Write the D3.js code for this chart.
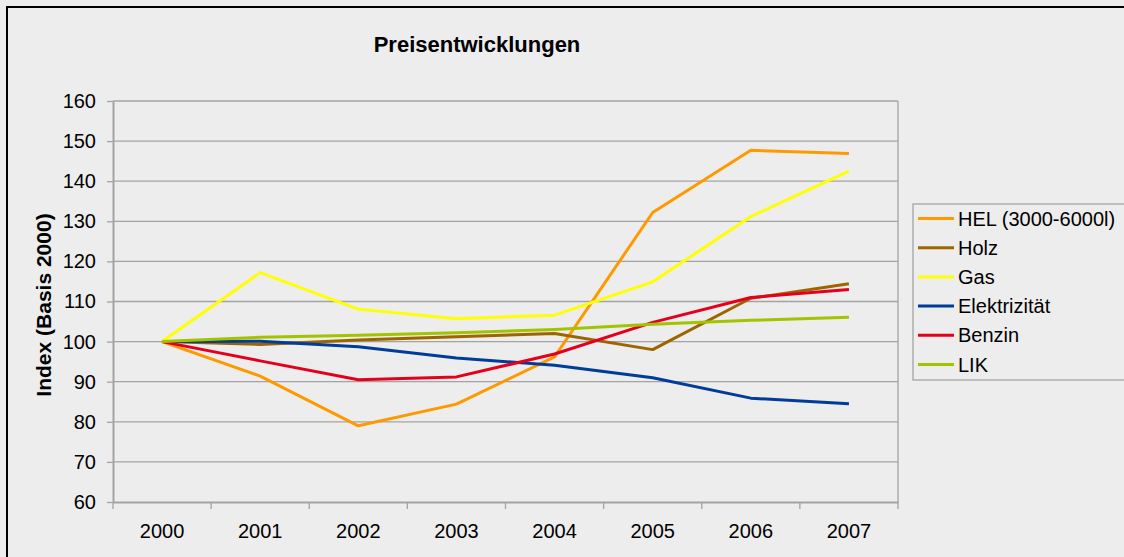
<!DOCTYPE html>
<html>
<head>
<meta charset="utf-8">
<script src="https://cdn.jsdelivr.net/npm/d3@7"></script>
<style>
  body { margin: 0; background: #ffffff; }
  svg { display: block; font-family: "Liberation Sans", Arial, sans-serif; }
</style>
</head>
<body>
<svg id="chart" width="1124" height="557"></svg>
<script>
var years = ["2000", "2001", "2002", "2003", "2004", "2005", "2006", "2007"];

var hel     = [100, 91.4, 79.0, 84.4, 96.2, 132.2, 147.7, 146.9];
var holz    = [100, 99.3, 100.4, 101.2, 102.0, 98.0, 110.8, 114.4];
var gas     = [100, 117.2, 108.1, 105.7, 106.6, 114.9, 131.2, 142.5];
var elektro = [100, 100.1, 98.7, 95.9, 94.1, 91.0, 85.9, 84.5];
var benzin  = [100, 95.2, 90.5, 91.2, 96.9, 104.8, 111.0, 113.0];
var lik     = [100, 101.1, 101.6, 102.2, 103.0, 104.3, 105.3, 106.1];

var seriesNames = ["HEL (3000-6000l)", "Holz", "Gas", "Elektrizität", "Benzin", "LIK"];
var seriesColors = ["#ff9900", "#9c6500", "#ffff00", "#003c99", "#e4001c", "#a2c400"];
var seriesData = [hel, holz, gas, elektro, benzin, lik];

var yTicks = [60, 70, 80, 90, 100, 110, 120, 130, 140, 150, 160];

var svg = d3.select("#chart");

// background + frame
svg.append("rect")
    .attr("x", 0).attr("y", 0)
    .attr("width", 1124).attr("height", 557)
    .attr("fill", "#ededed");
svg.append("rect")
    .attr("x", 7).attr("y", 7)
    .attr("width", 1124).attr("height", 600)
    .attr("fill", "none")
    .attr("stroke", "#000")
    .attr("stroke-width", 2);

var plotL = 113, plotT = 101, plotR = 898, plotB = 502;

var x = d3.scaleBand().domain(years).range([plotL, plotR]).padding(0);
var xEdge = d3.scaleLinear().domain([0, years.length]).range([plotL, plotR]);
var y = d3.scaleLinear().domain([60, 160]).range([plotB, plotT]);

// grid
svg.append("g")
    .selectAll("line")
    .data(yTicks.slice(1))
    .enter().append("line")
      .attr("x1", plotL).attr("x2", plotR)
      .attr("y1", function(d) { return y(d); })
      .attr("y2", function(d) { return y(d); })
      .attr("stroke", "#a3a3a3")
      .attr("stroke-width", 1.3);

// right frame of plot
svg.append("line")
    .attr("x1", plotR).attr("x2", plotR)
    .attr("y1", plotT).attr("y2", plotB)
    .attr("stroke", "#a3a3a3")
    .attr("stroke-width", 1.3);

// y axis
var yAxis = d3.axisLeft(y)
    .tickValues(yTicks)
    .tickSize(6)
    .tickSizeOuter(0)
    .tickPadding(11);

var gy = svg.append("g")
    .attr("transform", "translate(" + plotL + ",0)")
    .call(yAxis);
gy.select(".domain").attr("stroke", "#a3a3a3").attr("stroke-width", 2);
gy.selectAll(".tick line").attr("stroke", "#a3a3a3").attr("stroke-width", 1.3);
gy.selectAll("text")
    .attr("font-size", 20)
    .attr("fill", "#000")
    .attr("font-family", "Liberation Sans, Arial, sans-serif");

// x axis
var xAxis = d3.axisBottom(x)
    .tickSize(0)
    .tickSizeOuter(0)
    .tickPadding(22);

var gx = svg.append("g")
    .attr("transform", "translate(0," + plotB + ")")
    .call(xAxis);
gx.select(".domain").attr("stroke", "#a3a3a3").attr("stroke-width", 2);
gx.selectAll("text")
    .attr("font-size", 20)
    .attr("fill", "#000")
    .attr("font-family", "Liberation Sans, Arial, sans-serif");

svg.append("g")
    .selectAll("line")
    .data(d3.range(years.length + 1))
    .enter().append("line")
      .attr("x1", function(d) { return xEdge(d); })
      .attr("x2", function(d) { return xEdge(d); })
      .attr("y1", plotB)
      .attr("y2", plotB + 7)
      .attr("stroke", "#a3a3a3")
      .attr("stroke-width", 1.3);

// lines
var line = d3.line()
    .x(function(d, i) { return x(years[i]) + x.bandwidth() / 2; })
    .y(function(d) { return y(d); });

svg.append("g")
    .selectAll("path")
    .data(seriesData)
    .enter().append("path")
      .attr("d", function(d) { return line(d); })
      .attr("fill", "none")
      .attr("stroke", function(d, i) { return seriesColors[i]; })
      .attr("stroke-width", 3)
      .attr("stroke-linejoin", "round");

// title
svg.append("text")
    .attr("x", 477)
    .attr("y", 52)
    .attr("text-anchor", "middle")
    .attr("font-size", 22)
    .attr("font-weight", "bold")
    .text("Preisentwicklungen");

svg.append("text")
    .attr("transform", "translate(51,305) rotate(-90)")
    .attr("text-anchor", "middle")
    .attr("font-size", 21)
    .attr("font-weight", "bold")
    .text("Index (Basis 2000)");

// legend
var legend = svg.append("g");
legend.append("rect")
    .attr("x", 913).attr("y", 204)
    .attr("width", 300).attr("height", 176)
    .attr("fill", "none")
    .attr("stroke", "#a3a3a3")
    .attr("stroke-width", 1.3);

var items = legend.selectAll("g.item")
    .data(seriesNames)
    .enter().append("g")
      .attr("class", "item")
      .attr("transform", function(d, i) { return "translate(0," + (218.5 + i * 29.2) + ")"; });

items.append("line")
    .attr("x1", 918).attr("x2", 954)
    .attr("y1", 0).attr("y2", 0)
    .attr("stroke", function(d, i) { return seriesColors[i]; })
    .attr("stroke-width", 3);

items.append("text")
    .attr("x", 958)
    .attr("y", 7)
    .attr("font-size", 20)
    .text(function(d) { return d; });
</script>
</body>
</html>
